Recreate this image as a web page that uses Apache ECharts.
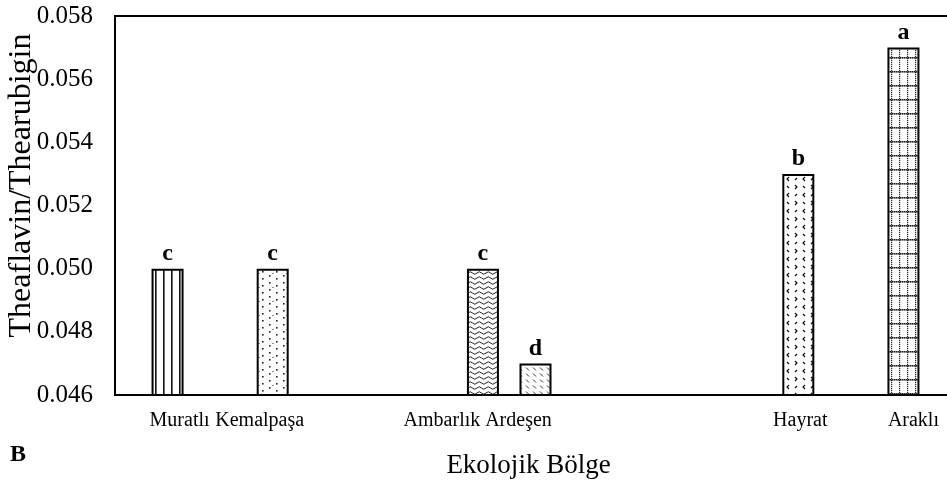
<!DOCTYPE html>
<html>
<head>
<meta charset="utf-8">
<script src="https://cdn.jsdelivr.net/npm/echarts@6/dist/echarts.min.js"></script>
<style>html,body{margin:0;padding:0;background:#fff}#c{width:947px;height:486px}</style>
</head>
<body>
<div id="c"></div>
<script>
// ---- data ----
const regions = ['Muratlı', 'Kemalpaşa', 'Ambarlık', 'Ardeşen', 'Hayrat', 'Araklı'];
const ratios = [0.050, 0.050, 0.050, 0.047, 0.053, 0.057];
const letters = ['c', 'c', 'c', 'd', 'b', 'a'];
// category slots along the axis (blank slots are gaps between groups)
const ticks = ['', '', 'Muratlı', '', '', '', 'Kemalpaşa', '', '', '', '', '', '', '', 'Ambarlık', '', 'Ardeşen',
  '', '', '', '', '', '', '', '', '', 'Hayrat', '', '', '', 'Araklı', '', ''];
const yTicks = [0.046, 0.048, 0.050, 0.052, 0.054, 0.056, 0.058];

// ---- label placement (style only) ----
const labelShift = { 'Muratlı': 12, 'Kemalpaşa': -13, 'Ambarlık': -41, 'Ardeşen': -17, 'Hayrat': 2, 'Araklı': 10 };

// ---- patterns ----
function tile(w, h, draw) {
  const c = document.createElement('canvas');
  c.width = w; c.height = h;
  const g = c.getContext('2d');
  g.fillStyle = '#fff'; g.fillRect(0, 0, w, h);
  draw(g);
  return { image: c, repeat: 'repeat' };
}
function dot(g, x, y, s) { g.fillRect(x, y, s, s); }
const patterns = [
  tile(8, 8, g => { g.fillStyle = '#111'; g.fillRect(3, 0, 1.6, 8); }),
  tile(14, 14, g => { g.fillStyle = '#222'; dot(g, 3, 2, 1.6); dot(g, 10, 5, 1.6); dot(g, 3, 9, 1.6); dot(g, 10, 12, 1.6); dot(g, 6.5, 7, 1); }),
  tile(9, 5, g => { g.strokeStyle = '#222'; g.lineWidth = 1; g.beginPath(); g.moveTo(0, 3); g.quadraticCurveTo(2.25, 0.5, 4.5, 3); g.quadraticCurveTo(6.75, 5.5, 9, 3); g.stroke(); }),
  tile(7, 6, g => { g.strokeStyle = '#333'; g.lineWidth = 1; g.beginPath(); g.moveTo(1, 1.5); g.lineTo(4, 4.5); g.stroke(); }),
  tile(16, 16, g => { g.strokeStyle = '#111'; g.lineWidth = 1.2; g.beginPath();
    g.moveTo(5, 1); g.lineTo(3, 3); g.lineTo(5, 5);
    g.moveTo(11, 9); g.lineTo(13, 11); g.lineTo(11, 13);
    g.moveTo(13, 2); g.lineTo(11, 4);
    g.moveTo(3, 10); g.lineTo(5, 12); g.stroke(); }),
  tile(8, 14, g => { g.fillStyle = '#222'; for (let y = 0; y < 14; y += 2) dot(g, 3, y, 1.2); for (let x = 0; x < 8; x += 2) dot(g, x, 1, 1.6); })
];

const serif = "'Liberation Serif', 'Times New Roman', serif";
const seriesData = ticks.map(t => {
  const i = regions.indexOf(t);
  if (i < 0) return '-';
  return { value: ratios[i], itemStyle: { color: patterns[i] }, label: { formatter: letters[i] } };
});
const axisData = ticks.map(t => {
  const s = labelShift[t] || 0;
  return { value: t, textStyle: { padding: s >= 0 ? [0, 0, 0, 2 * s] : [0, -2 * s, 0, 0] } };
});

const chart = echarts.init(document.getElementById('c'), null, { renderer: 'canvas' });
chart.setOption({
  animation: false,
  backgroundColor: '#fff',
  grid: { left: 115, right: -9, top: 16, bottom: 91, show: true, borderColor: '#000', borderWidth: 2,
    containLabel: false, outerBoundsMode: 'none' },
  xAxis: {
    type: 'category', data: axisData, boundaryGap: false,
    axisLine: { lineStyle: { color: '#000', width: 2 } },
    axisTick: { show: false },
    axisLabel: { interval: 0, color: '#000', fontFamily: serif, fontSize: 20, margin: 16 },
    name: 'Ekolojik Bölge', nameLocation: 'middle', nameGap: 57, nameMoveOverlap: false,
    nameTextStyle: { color: '#000', fontFamily: serif, fontSize: 27, padding: [0, 14, 0, 0] }
  },
  yAxis: {
    type: 'value', min: yTicks[0], max: yTicks[yTicks.length - 1], interval: 0.002,
    axisLine: { show: true, lineStyle: { color: '#000', width: 2 } },
    axisTick: { show: false }, splitLine: { show: false },
    axisLabel: { color: '#000', fontFamily: serif, fontSize: 25, margin: 22, formatter: v => v.toFixed(3) },
    name: 'Theaflavin/Thearubigin', nameLocation: 'middle', nameGap: 77, nameRotate: 90, nameMoveOverlap: false,
    nameTextStyle: { color: '#000', fontFamily: serif, fontSize: 32, padding: [0, 0, 0, 40] }
  },
  graphic: [{ type: 'text', left: 10, top: 443, style: { text: 'B', font: "bold 24px " + serif, fill: '#000' } }],
  series: [{
    type: 'bar', data: seriesData, barWidth: 32,
    itemStyle: { borderColor: '#000', borderWidth: 2 },
    label: { show: true, position: 'top', distance: 3, color: '#000', fontFamily: serif, fontWeight: 'bold', fontSize: 24 }
  }]
});
</script>
</body>
</html>
